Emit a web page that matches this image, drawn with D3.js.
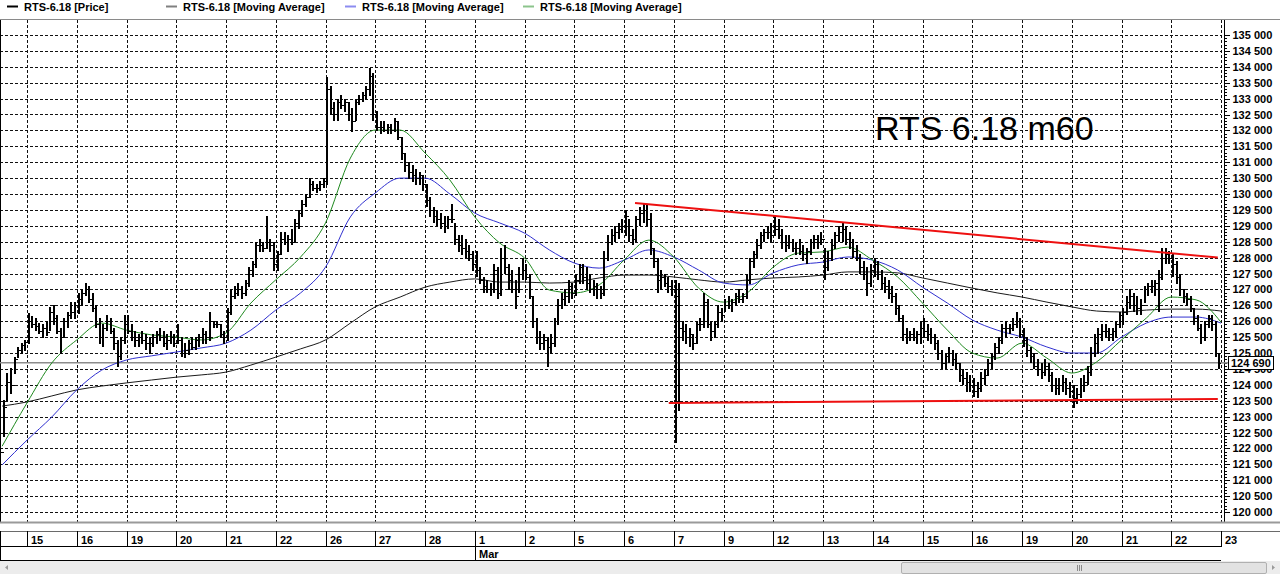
<!DOCTYPE html>
<html>
<head>
<meta charset="utf-8">
<script src="https://cdn.jsdelivr.net/npm/d3@7"></script>
<style>
  body { margin: 0; background: #fff; }
  svg text { font-family: "Liberation Sans", Arial, sans-serif; }
</style>
</head>
<body>
<svg id="chart"></svg>
<script>
// ---- data ----
var days = ["15","16","19","20","21","22","26","27","28","1","2","5","6","7","9","12","13","14","15","16","19","20","21","22","23"];
var monthMarks = [{ name: "Mar", dayIndex: 9 }];
var firstDayBars = 8, barsPerDay = 14;   // partial first session, then hourly bars per session

var highs = [
  122480,123520,124370,124530,124870,125190,125310,125410,
  126260,126150,126100,125950,125900,126000,126450,126500,126200,125800,126100,126300,126600,126600,
  126900,127000,127200,127100,126900,126500,126100,125900,126200,126100,125800,125400,125500,126200,
  126200,125900,125700,125600,125700,125600,125500,125600,125700,125800,125700,125600,125700,125600,
  125900,125500,125300,125400,125500,125500,125600,125800,125700,126300,126000,126000,125900,125700,
  126400,127000,127100,127200,127100,127300,127700,127900,128500,128600,128500,129300,128600,128500,
  128200,128800,128800,128700,128900,129200,129500,129800,130000,130500,130400,130300,130400,130500,
  133680,133400,132900,133000,133100,133000,132900,132700,133000,133100,133200,133400,133960,133800,
  132600,132300,132300,132200,132200,132400,132300,131800,131300,131000,130900,130800,130700,130600,
  130300,129900,129600,129500,129400,129300,129300,129700,129100,128700,128700,128600,128400,128200,
  128200,127700,127400,127300,127200,127800,127700,128300,128400,127800,127600,127300,127700,128000,
  127800,127500,126800,126100,125700,125600,125500,125600,126100,126700,126900,127000,127300,127200,
  127500,127800,127800,127700,127500,127300,127200,127100,128200,128700,128900,129000,129100,129200,
  129500,129200,128900,129300,129600,129720,129700,129400,128300,128000,127600,127500,127400,127300,
  127300,127200,126000,125900,125800,125600,126000,126100,126900,126700,126000,126000,126500,126400,
  126700,126800,126700,126900,127000,126900,127500,128000,128200,128600,128800,128900,129000,129100,
  129300,129200,128900,128700,128700,128600,128500,128600,128400,128300,128600,128700,128700,128800,
  128300,128200,128600,128800,129000,129100,129000,128800,128600,128400,128100,127900,127700,127800,
  128000,127900,127600,127400,127300,127100,126900,126500,126200,125800,125700,125800,125700,126000,
  126100,125900,125800,125600,125400,125100,125000,125200,125100,125000,124700,124500,124400,124300,
  124200,124100,124400,124500,124800,125000,125300,125500,125900,126000,125900,126100,126300,126100,
  125800,125500,125200,125000,124800,124700,124800,124700,124400,124200,124200,124300,124200,124100,
  124000,123900,124200,124300,124600,125200,125600,125800,125900,125900,125800,125800,126000,126300,
  126400,126800,127000,126900,126800,126700,127100,127200,127300,127300,127600,128300,128300,128200,
  128100,127900,127500,127000,126900,126800,126400,126200,125900,126000,126200,126200,126000,125000
];
var lows = [
  121100,122360,123520,123740,124370,124870,125000,125090,
  125310,125800,125700,125600,125500,125550,125700,125900,125600,125000,125500,125800,126100,126100,
  126250,126500,126800,126600,126300,125800,125300,125200,125700,125600,125100,124560,124800,125300,
  125600,125400,125200,125200,125300,125100,125000,125200,125300,125400,125200,125100,125300,125200,
  125300,124900,124850,124950,125100,125100,125200,125300,125300,125400,125800,125800,125500,125300,
  125400,126200,126700,126800,126700,126800,127100,127400,127700,128200,128200,128300,128200,127600,
  127600,128100,128400,128200,128400,128500,128900,129300,129600,129900,130100,130050,130100,130200,
  130300,132500,132300,132300,132700,132600,132300,131950,132300,132800,132900,133000,133100,132300,
  132000,131900,131950,131900,131900,131950,131700,131100,130700,130500,130400,130300,130300,130100,
  129600,129300,129100,129000,128900,128800,128900,129100,128400,128200,128100,128000,127900,127600,
  127400,127200,126900,126900,126800,126900,126700,126800,127500,127000,126900,126400,126900,127300,
  127300,126700,125800,125300,125100,125100,124560,125000,125200,125900,126400,126500,126600,126700,
  126800,127200,127200,127000,126900,126800,126700,126700,126800,127900,128400,128500,128600,128800,
  128700,128500,128400,128500,129000,129100,129000,128100,127700,126900,127000,127100,126900,126800,
  122200,123200,125400,125300,125200,125100,125300,125700,125800,125800,125400,125500,125800,126000,
  126300,126400,126300,126500,126600,126600,126700,127200,127700,128000,128300,128500,128600,128500,
  128700,128600,128300,128200,128300,128200,128100,128100,127900,127800,128100,128300,128300,128400,
  127300,127600,127900,128300,128500,128500,128400,128300,128000,127900,127500,127300,126800,127100,
  127400,127300,127000,126900,126700,126600,126200,126000,125400,125300,125400,125400,125300,125300,
  125500,125400,125300,125100,124800,124500,124500,124700,124600,124500,124100,124000,123800,123800,
  123620,123600,123800,124000,124300,124500,124800,125000,125300,125500,125600,125700,125800,125500,
  125200,124900,124700,124500,124300,124200,124300,124100,123800,123700,123700,123800,123700,123600,
  123300,123400,123600,123800,124000,124300,124900,125000,125400,125500,125400,125400,125500,125800,
  125900,126200,126400,126300,126200,126200,126600,126800,126900,126800,126300,127300,127800,127800,
  127400,127200,126800,126600,126500,126300,125900,125700,125300,125400,125800,125700,124900,124500
];
var closes = [
  121900,123300,124100,124000,124800,125100,125250,125350,
  126000,125900,125850,125700,125800,125650,126300,126100,125700,125500,126000,126200,126300,126500,
  126700,126900,127000,126700,126400,125900,125500,125800,126000,125700,125300,124900,125400,125900,
  125700,125500,125400,125500,125400,125300,125300,125500,125600,125500,125300,125400,125500,125300,
  125400,125000,125100,125300,125200,125400,125500,125600,125500,126000,125900,125900,125600,125500,
  126300,126800,126900,127000,126900,127200,127600,127800,128400,128400,128300,128500,128400,127800,
  128100,128600,128500,128600,128500,129100,129400,129700,129900,130300,130200,130200,130300,130400,
  133300,132700,132500,132900,132800,132900,132500,132300,132900,133000,133100,133300,133700,132500,
  132100,132100,132000,132100,132000,132300,131800,131300,130900,130700,130600,130500,130600,130300,
  129800,129500,129300,129200,129100,129000,129200,129200,128600,128400,128300,128200,128100,127800,
  127600,127300,127100,127000,127000,127600,126900,128000,127700,127300,127000,126800,127500,127600,
  127400,126800,126000,125500,125300,125400,125200,125300,126000,126500,126700,126800,127100,126900,
  127300,127700,127400,127200,127000,127100,127000,126900,128000,128500,128700,128800,128900,129000,
  129300,128700,128600,129200,129400,129500,129200,128300,127900,127300,127400,127200,127100,127000,
  126800,125800,125700,125500,125600,125300,125900,125900,126600,125900,125700,125900,126300,126200,
  126500,126500,126600,126800,126700,126800,127300,127900,128100,128400,128700,128800,128800,128700,
  128900,128700,128500,128400,128500,128300,128300,128200,128100,128200,128500,128600,128500,128600,
  127700,128000,128400,128700,128800,128900,128600,128500,128200,128000,127700,127500,127200,127600,
  127800,127500,127200,127100,126900,126800,126400,126100,125600,125500,125600,125500,125600,125800,
  125700,125600,125500,125300,125000,124700,124900,125000,124800,124700,124300,124200,124100,124000,
  123800,123900,124200,124300,124700,124900,125200,125400,125800,125800,125800,125900,126000,125600,
  125400,125100,124900,124600,124500,124400,124600,124300,124000,123900,124000,124100,123900,123800,
  123600,123700,124000,124100,124400,125000,125300,125600,125700,125700,125600,125700,125900,126200,
  126300,126600,126800,126500,126400,126500,127000,127100,127100,127200,127400,128000,128100,128000,
  127800,127400,127000,126800,126700,126400,126100,125800,125500,125900,126100,125900,125000,124690
];

// moving averages, one reading every 7 bars (bar 1, 8, 15, ...)
var maStep = 7;
var maGreen = [122070,123430,124690,125410,125940,125720,125570,125500,125410,125630,126570,127300,128020,129090,131130,132010,132010,131290,130440,129280,128460,127990,126980,126890,127140,127920,128550,128020,127040,126600,126920,127700,128140,128180,128330,127920,127390,126570,125720,125000,124840,125310,124840,124370,124720,125410,126100,126760,126670,125970];
var maBlue = [121480,122260,122990,123840,124460,124780,124910,125030,125160,125310,125720,126350,126890,127700,129280,130030,130500,130500,130000,129400,129090,128770,128240,127830,127670,127920,128240,128020,127610,127200,127140,127520,127770,127860,128020,127920,127610,127070,126570,126040,125720,125500,125190,125000,125000,125500,125940,126130,126130,125940];
var maBlack = [123330,123460,123650,123840,123960,124060,124150,124240,124310,124400,124620,124870,125130,125410,125940,126450,126760,127070,127230,127330,127230,127230,127200,127230,127360,127450,127450,127390,127300,127230,127300,127360,127390,127450,127550,127550,127520,127360,127200,127040,126890,126760,126600,126450,126320,126290,126350,126380,126380,126320];

// hand drawn trend lines: [bar position, price]
var trendUpper = [[179.1, 129720], [343.1, 128000]];
var trendLower = [[188.6, 123430], [343.1, 123550]];

var lastPrice = 124690;
var legendItems = [
  { text: "RTS-6.18 [Price]", color: "#000" },
  { text: "RTS-6.18 [Moving Average]", color: "#808080" },
  { text: "RTS-6.18 [Moving Average]", color: "#8c8cf0" },
  { text: "RTS-6.18 [Moving Average]", color: "#8cc48c" }
];
var priceMin = 120000, priceMax = 135000, priceStep = 500;

// ---- layout ----
var width = 1280, height = 574;
var plotRight = 1221, plotTop = 20, plotBottom = 522;

var svg = d3.select("#chart").attr("width", width).attr("height", height);
svg.append("rect").attr("width", width).attr("height", height).attr("fill", "#fff");

var totalBars = firstDayBars + (days.length - 1) * barsPerDay;
var x = d3.scaleLinear().domain([firstDayBars, totalBars]).range([27, plotRight]);
var y = d3.scaleLinear().domain([priceMin, priceMax]).range([512, 35]);

function dayPos(k) { return x(firstDayBars + k * barsPerDay); }

// legend
var legendX = [7, 166, 345, 523];
var legend = svg.append("g").attr("font-size", "11px").attr("font-weight", "bold");
legendItems.forEach(function (d, i) {
  legend.append("line")
    .attr("x1", legendX[i]).attr("x2", legendX[i] + 11)
    .attr("y1", 6.5).attr("y2", 6.5)
    .attr("stroke", d.color).attr("stroke-width", 2);
  legend.append("text").attr("x", legendX[i] + 17).attr("y", 10.5).text(d.text);
});

svg.append("line").attr("x1", 0).attr("x2", width).attr("y1", 19.5).attr("y2", 19.5)
  .attr("stroke", "#8a8a8a");

// grid
var grid = svg.append("g").attr("stroke", "#111").attr("stroke-dasharray", "3,2")
  .attr("shape-rendering", "crispEdges");
grid.selectAll("line.h").data(d3.range(priceMin, priceMax + 1, priceStep)).join("line")
  .attr("x1", 0).attr("x2", plotRight)
  .attr("y1", function (d) { return Math.round(y(d)) + 0.5; })
  .attr("y2", function (d) { return Math.round(y(d)) + 0.5; });
grid.selectAll("line.v").data(d3.range(days.length)).join("line")
  .attr("x1", function (k) { return Math.round(dayPos(k)) + 0.5; })
  .attr("x2", function (k) { return Math.round(dayPos(k)) + 0.5; })
  .attr("y1", plotTop).attr("y2", plotBottom);

svg.append("line").attr("x1", 0.5).attr("x2", 0.5).attr("y1", plotTop).attr("y2", plotBottom)
  .attr("stroke", "#000");

svg.append("clipPath").attr("id", "plotClip").append("rect")
  .attr("x", 0).attr("y", plotTop).attr("width", plotRight).attr("height", plotBottom - plotTop);
var plot = svg.append("g").attr("clip-path", "url(#plotClip)");

// last price line
plot.append("line").attr("x1", 0).attr("x2", plotRight)
  .attr("y1", y(lastPrice)).attr("y2", y(lastPrice))
  .attr("stroke", "#8c8c8c").attr("stroke-width", 1.5);

// moving averages
var maLine = d3.line()
  .x(function (d, i) { return x(i * maStep + 1); })
  .y(function (d) { return y(d); })
  .curve(d3.curveMonotoneX);
[[maBlack, "#1a1a1a"], [maBlue, "#3030d0"], [maGreen, "#1f8a1f"]].forEach(function (m) {
  plot.append("path").attr("d", maLine(m[0])).attr("fill", "none")
    .attr("stroke", m[1]).attr("stroke-width", 1);
});

// price bars (open tick taken from the previous close)
var barIdx = d3.range(highs.length);
var gBars = plot.append("g").attr("stroke", "#000").attr("shape-rendering", "crispEdges");
gBars.selectAll("line.hl").data(barIdx).join("line")
  .attr("x1", function (i) { return Math.round(x(i + 0.5)); })
  .attr("x2", function (i) { return Math.round(x(i + 0.5)); })
  .attr("y1", function (i) { return y(highs[i]); })
  .attr("y2", function (i) { return y(lows[i]) + 0.5; })
  .attr("stroke-width", 2);
gBars.selectAll("line.op").data(barIdx).join("line")
  .attr("x1", function (i) { return Math.round(x(i + 0.5)) - 2; })
  .attr("x2", function (i) { return Math.round(x(i + 0.5)); })
  .attr("y1", function (i) { return Math.round(y(closes[Math.max(0, i - 1)])) + 0.5; })
  .attr("y2", function (i) { return Math.round(y(closes[Math.max(0, i - 1)])) + 0.5; })
  .attr("stroke-width", 1);
gBars.selectAll("line.cl").data(barIdx).join("line")
  .attr("x1", function (i) { return Math.round(x(i + 0.5)); })
  .attr("x2", function (i) { return Math.round(x(i + 0.5)) + 2; })
  .attr("y1", function (i) { return Math.round(y(closes[i])) + 0.5; })
  .attr("y2", function (i) { return Math.round(y(closes[i])) + 0.5; })
  .attr("stroke-width", 1);

// trend lines
var trendLine = d3.line().x(function (d) { return x(d[0]); }).y(function (d) { return y(d[1]); });
[trendUpper, trendLower].forEach(function (t) {
  plot.append("path").attr("d", trendLine(t)).attr("fill", "none")
    .attr("stroke", "#ee1010").attr("stroke-width", 2);
});

// caption
svg.append("text").attr("x", 875).attr("y", 140).attr("font-size", "34px").text("RTS 6.18 m60");

// right price axis
var fmt = function (d) { return d3.format(",")(d).replace(/,/g, " "); };
svg.append("line").attr("x1", 1224.5).attr("x2", 1224.5).attr("y1", plotTop).attr("y2", plotBottom)
  .attr("stroke", "#000");
var minorAxis = svg.append("g").attr("transform", "translate(1224.5,0)")
  .call(d3.axisRight(y).tickValues(d3.range(priceMin, priceMax + 1, 100)).tickSize(2).tickFormat(""));
var majorAxis = svg.append("g").attr("transform", "translate(1224.5,0)")
  .call(d3.axisRight(y).tickValues(d3.range(priceMin, priceMax + 1, priceStep))
    .tickSize(5).tickPadding(3).tickFormat(fmt));
minorAxis.select(".domain").remove();
majorAxis.select(".domain").remove();
svg.selectAll(".tick line").attr("shape-rendering", "crispEdges");
majorAxis.selectAll("text").attr("font-size", "11px").attr("font-weight", "bold")
  .attr("font-family", "Liberation Sans, Arial, sans-serif").attr("fill", "#000");

// last price box
svg.append("line").attr("x1", plotRight).attr("x2", 1229).attr("y1", y(lastPrice)).attr("y2", y(lastPrice))
  .attr("stroke", "#8c8c8c").attr("stroke-width", 1.5);
svg.append("rect").attr("x", 1228.5).attr("y", Math.round(y(lastPrice)) - 6.5)
  .attr("width", 45).attr("height", 13).attr("fill", "#fff").attr("stroke", "#000");
svg.append("text").attr("x", 1231).attr("y", Math.round(y(lastPrice)) + 4)
  .attr("font-size", "11px").attr("font-weight", "bold").text(fmt(lastPrice));

// time axis
svg.append("line").attr("x1", 0).attr("x2", width).attr("y1", 522.5).attr("y2", 522.5)
  .attr("stroke", "#9a9a9a").attr("stroke-width", 2);
var tAxis = svg.append("g").attr("shape-rendering", "crispEdges");
tAxis.append("line").attr("x1", 0).attr("x2", width).attr("y1", 531.5).attr("y2", 531.5).attr("stroke", "#6a6a6a");
tAxis.append("line").attr("x1", 0).attr("x2", plotRight).attr("y1", 546.5).attr("y2", 546.5).attr("stroke", "#000");
tAxis.append("line").attr("x1", 0).attr("x2", plotRight).attr("y1", 560.5).attr("y2", 560.5).attr("stroke", "#000");
tAxis.append("line").attr("x1", 0.5).attr("x2", 0.5).attr("y1", 531).attr("y2", 561).attr("stroke", "#000");
tAxis.selectAll("line.div").data(d3.range(days.length)).join("line")
  .attr("x1", function (k) { return Math.round(dayPos(k)) + 0.5; })
  .attr("x2", function (k) { return Math.round(dayPos(k)) + 0.5; })
  .attr("y1", 531).attr("y2", 547).attr("stroke", "#000");
tAxis.selectAll("text.day").data(days).join("text")
  .attr("x", function (d, k) { return Math.round(dayPos(k)) + 4; })
  .attr("y", 543.5).attr("font-size", "11px").attr("font-weight", "bold").text(function (d) { return d; });
monthMarks.forEach(function (m) {
  var mx = Math.round(dayPos(m.dayIndex)) + 0.5;
  tAxis.append("line").attr("x1", mx).attr("x2", mx).attr("y1", 546).attr("y2", 561).attr("stroke", "#000");
  tAxis.append("text").attr("x", mx + 3.5).attr("y", 557.5).attr("font-size", "11px")
    .attr("font-weight", "bold").text(m.name);
});

// scrollbar
var sb = svg.append("g");
sb.append("rect").attr("x", 0).attr("y", 561).attr("width", width).attr("height", 13).attr("fill", "#ececec");
sb.append("rect").attr("x", 901.5).attr("y", 562.5).attr("width", 365).attr("height", 11)
  .attr("fill", "#e2e2e2").attr("stroke", "#b0b0b0").attr("rx", 1.5);
[1077, 1079, 1081].forEach(function (gx) {
  sb.append("line").attr("x1", gx + 0.5).attr("x2", gx + 0.5).attr("y1", 565).attr("y2", 571)
    .attr("stroke", "#8a8a8a");
});
sb.append("path").attr("d", "M5,567.5 L8,565 L8,570 Z").attr("fill", "#9a9a9a");
sb.append("path").attr("d", "M1275,567.5 L1272,565 L1272,570 Z").attr("fill", "#9a9a9a");
</script>
</body>
</html>
